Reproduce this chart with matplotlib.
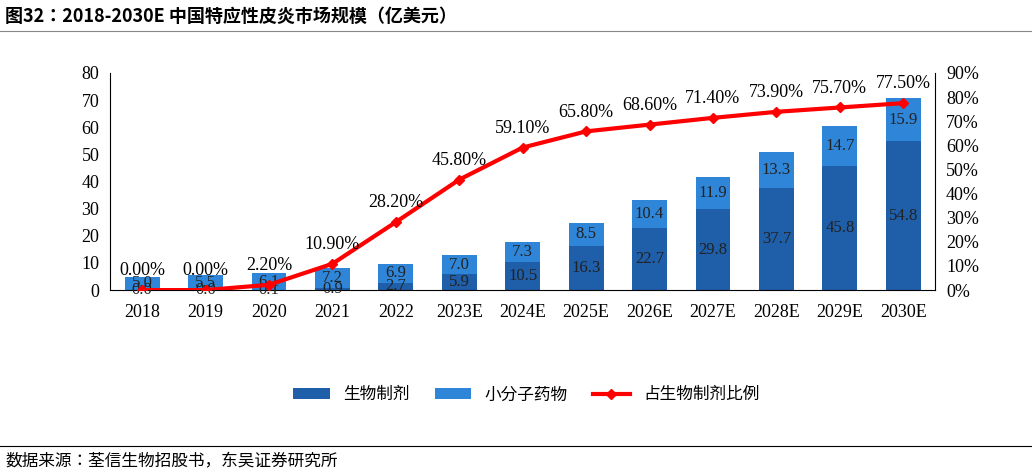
import numpy as np
import matplotlib.pyplot as plt

years = ['2018', '2019', '2020', '2021', '2022', '2023E', '2024E', '2025E',
         '2026E', '2027E', '2028E', '2029E', '2030E']
bio = [0.0, 0.0, 0.1, 0.9, 2.7, 5.9, 10.5, 16.3, 22.7, 29.8, 37.7, 45.8, 54.8]
small = [5.0, 5.5, 6.1, 7.2, 6.9, 7.0, 7.3, 8.5, 10.4, 11.9, 13.3, 14.7, 15.9]
ratio = [0.0, 0.0, 2.2, 10.9, 28.2, 45.8, 59.1, 65.8, 68.6, 71.4, 73.9, 75.7, 77.5]

cjk = ['Noto Sans CJK SC', 'Noto Sans CJK JP', 'Noto Sans CJK TC', 'DejaVu Sans']
serif = 'Liberation Serif'
c_bio = '#1f5ea8'
c_small = '#2f86d8'

fig = plt.figure(figsize=(10.32, 4.74), dpi=100)
ax = fig.add_axes([0.107, 0.388, 0.799, 0.458])
x = np.arange(len(years))
b1 = ax.bar(x, bio, 0.55, color=c_bio)
b2 = ax.bar(x, small, 0.55, bottom=bio, color=c_small)
for i in range(len(x)):
    ax.text(x[i], bio[i] / 2, '%.1f' % bio[i], ha='center', va='center',
            fontsize=12, family=serif, color='#222222')
    ax.text(x[i], bio[i] + small[i] / 2, '%.1f' % small[i], ha='center', va='center',
            fontsize=12, family=serif, color='#222222')
ax.set_ylim(0, 80)
ax.set_yticks(range(0, 81, 10))
ax.set_xlim(-0.5, len(x) - 0.5)
ax.set_xticks(x)
ax.set_xticklabels(years)
for s in ['top', 'right']:
    ax.spines[s].set_visible(False)
ax.tick_params(length=0, labelsize=13)
ax.tick_params(axis='x', pad=10)
ax.tick_params(axis='y', pad=8)
for t in ax.get_xticklabels() + ax.get_yticklabels():
    t.set_family(serif)

ax2 = ax.twinx()
ln, = ax2.plot(x, ratio, color='#ff0000', lw=3, marker='D', ms=5)
for i in range(len(x)):
    ax2.text(x[i], ratio[i] + 4.5, '%.2f%%' % ratio[i], ha='center', va='bottom',
             fontsize=13, family=serif)
ax2.set_ylim(0, 90)
ax2.set_yticks(range(0, 91, 10))
ax2.set_yticklabels(['%d%%' % v for v in range(0, 91, 10)])
for s in ['top', 'left', 'bottom']:
    ax2.spines[s].set_visible(False)
ax2.tick_params(length=0, labelsize=13, pad=8)
for t in ax2.get_yticklabels():
    t.set_family(serif)

fig.legend([b1, b2, ln], ['生物制剂', '小分子药物', '占生物制剂比例'],
           loc='center', bbox_to_anchor=(0.51, 0.167), ncol=3, frameon=False,
           prop={'family': cjk, 'size': 12}, handlelength=2.2, columnspacing=1.5)

fig.text(0.005, 0.965, '图32：2018-2030E 中国特应性皮炎市场规模（亿美元）', fontsize=13,
         weight='bold', family=cjk, va='center')
fig.add_artist(plt.Line2D([0, 1], [0.935, 0.935], color='#888888', lw=0.8))
fig.add_artist(plt.Line2D([0, 1], [0.06, 0.06], color='black', lw=0.8))
fig.text(0.005, 0.025, '数据来源：荃信生物招股书，东吴证券研究所', fontsize=12,
         family=cjk, va='center')

fig.savefig('out.png')
